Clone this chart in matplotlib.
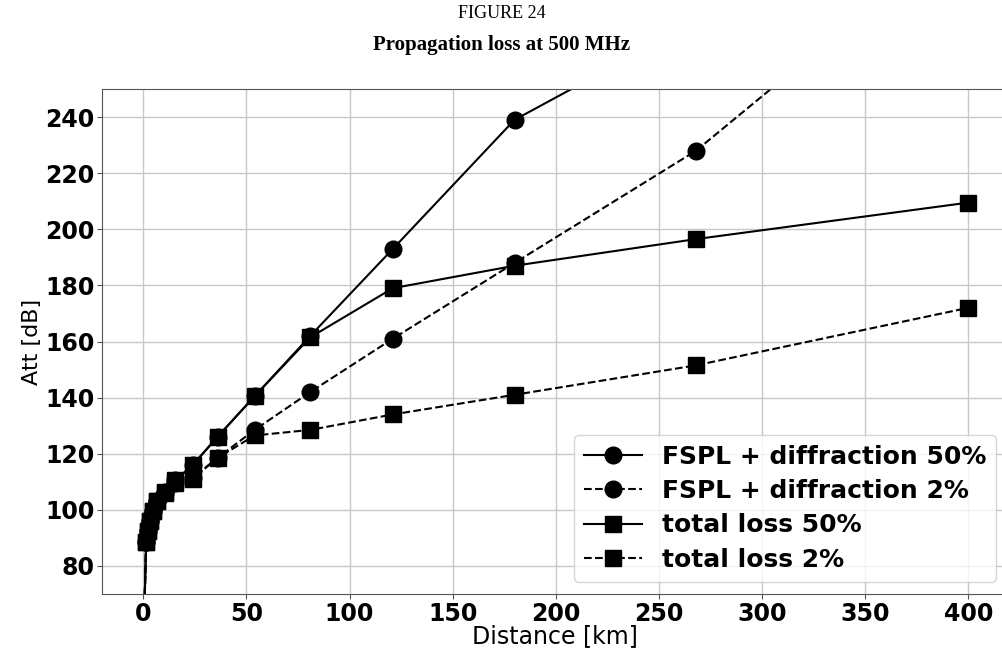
import matplotlib
matplotlib.use('Agg')
import matplotlib.pyplot as plt

# distance [km]
dist = [0.05, 1.4, 2.1, 3.1, 4.6, 6.9, 10.4, 15.6, 24, 36, 54, 81, 121, 180, 268, 400]

fspl_50 = [50, 88.5, 92.5, 96, 99.5, 103, 106.5, 110.5, 116, 126, 140.5, 162, 193, 239, 274, 320]
fspl_2 = [50, 88.5, 92.5, 96, 99.5, 103, 106, 109.5, 111.5, 118.5, 128.5, 142, 161, 188, 228, 308]
total_50 = [50, 88.5, 92.5, 96, 99.5, 103, 106.5, 110.5, 116, 126, 140.5, 161.5, 179, 187, 196.5, 209.5]
total_2 = [50, 88.5, 92.5, 96, 99.5, 103, 106, 109.5, 111, 118.5, 126.5, 128.5, 134, 141, 151.5, 172]

W, H = 1003, 653
fig = plt.figure(figsize=(W / 100, H / 100), dpi=100)
# axes run past the right edge of the picture, as in the original
ax = fig.add_axes([102 / W, (H - 594) / H, 918 / W, 505 / H])

ax.plot(dist, fspl_50, '-', color='black', marker='o', markersize=12, linewidth=1.5,
        label='FSPL + diffraction 50%')
ax.plot(dist, fspl_2, '--', color='black', marker='o', markersize=12, linewidth=1.5,
        label='FSPL + diffraction 2%')
ax.plot(dist, total_50, '-', color='black', marker='s', markersize=12, linewidth=1.5,
        label='total loss 50%')
ax.plot(dist, total_2, '--', color='black', marker='s', markersize=12, linewidth=1.5,
        label='total loss 2%')

ax.set_xlim(-20, -20 + 918 / 2.0625)
ax.set_ylim(70, 250)
ax.set_xticks(range(0, 401, 50))
ax.set_yticks(range(80, 241, 20))
ax.grid(True, color='#c8c8c8', linewidth=1)
ax.tick_params(labelsize=17, pad=2, color='#555555')
for lab in ax.get_xticklabels() + ax.get_yticklabels():
    lab.set_fontweight('bold')
for sp in ax.spines.values():
    sp.set_color('#555555')

ax.set_xlabel('Distance [km]', fontsize=17, labelpad=0)
ax.xaxis.set_label_coords((555 - 102) / 918, -0.06)
ax.set_ylabel('Att [dB]', fontsize=16, labelpad=2)

ax.legend(loc='lower right', prop={'size': 18, 'weight': 'bold'}, handlelength=2.3,
          handletextpad=0.8, labelspacing=0.42, borderaxespad=0.0,
          bbox_to_anchor=((996 - 102) / 918, 12 / 505))

fig.text(0.5, 1 - 14 / H, 'FIGURE 24', ha='center', va='center',
         family='Liberation Serif', fontsize=13)
fig.text(0.5, 1 - 45 / H, 'Propagation loss at 500 MHz', ha='center', va='center',
         family='Liberation Serif', fontsize=15, fontweight='bold')

fig.savefig('out.png', dpi=100)
